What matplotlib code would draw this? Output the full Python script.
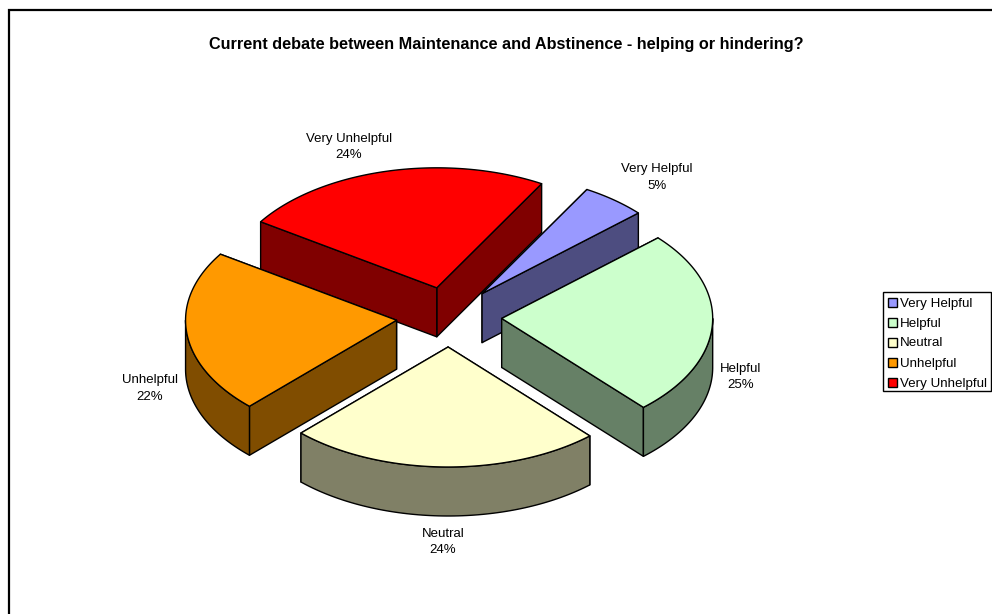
import numpy as np
import matplotlib
matplotlib.use("Agg")
import matplotlib.pyplot as plt
from matplotlib.patches import Polygon, Rectangle

plt.rcParams['font.family'] = ['Liberation Sans', 'DejaVu Sans']

TITLE = 'Current debate between Maintenance and Abstinence - helping or hindering?'
categories = ['Very Helpful', 'Helpful', 'Neutral', 'Unhelpful', 'Very Unhelpful']
values = [5, 25, 24, 22, 24]
top_colors = ['#9999FF', '#CCFFCC', '#FFFFCC', '#FF9900', '#FF0000']
side_colors = ['#4D4D80', '#668066', '#808066', '#804D00', '#800000']
label_xy = [(657, 177.5), (741, 377), (443, 542), (150, 388.5), (349, 147)]

# pie geometry, in pixels
CX, CY = 449, 317
RX, RY = 211, 120
DEPTH = 49
EXPLODE = 0.25
START = 29.8


def rim(t, ox, oy):
    # t runs clockwise from twelve o'clock, in degrees
    r = np.radians(t)
    return ox + RX * np.sin(r), oy - RY * np.cos(r)


def draw_slice(ax, t0, t1, top, side):
    mid = (t0 + t1) / 2
    ox = CX + EXPLODE * RX * np.sin(np.radians(mid))
    oy = CY - EXPLODE * RY * np.cos(np.radians(mid))
    kw = dict(edgecolor='black', linewidth=1.0, joinstyle='round')

    # the two cut faces, the one further back first
    for t in sorted((t0, t1), key=lambda a: rim(a, ox, oy)[1]):
        x, y = rim(t, ox, oy)
        ax.add_patch(Polygon([(ox, oy), (x, y), (x, y + DEPTH), (ox, oy + DEPTH)],
                             facecolor=side, **kw))

    # outer wall, only the part that faces the viewer
    lo = max(t0, 90)
    hi = min(t1, 270)
    if lo < hi:
        ts = np.linspace(lo, hi, 80)
        x, y = rim(ts, ox, oy)
        pts = np.r_[np.c_[x, y], np.c_[x, y + DEPTH][::-1]]
        ax.add_patch(Polygon(pts, facecolor=side, **kw))

    ts = np.linspace(t0, t1, 120)
    x, y = rim(ts, ox, oy)
    pts = np.r_[[(ox, oy)], np.c_[x, y]]
    ax.add_patch(Polygon(pts, facecolor=top, **kw))


fig = plt.figure(figsize=(9.92, 6.14), dpi=100)
ax = fig.add_axes([0, 0, 1, 1])
ax.set_xlim(0, 992)
ax.set_ylim(614, 0)
ax.axis('off')

# chart frame runs off the right and bottom of the page
ax.plot([9, 9, 1000], [620, 10, 10], color='black', linewidth=1.6, solid_joinstyle='miter')

total = sum(values)
edges = START + np.cumsum([0] + values) * 360 / total

# back slices first so the front ones overlap them
for i in [4, 0, 3, 1, 2]:
    draw_slice(ax, edges[i], edges[i + 1], top_colors[i], side_colors[i])

for name, val, (x, y) in zip(categories, values, label_xy):
    ax.text(x, y, f'{name}\n{val}%', ha='center', va='center', fontsize=9.5, linespacing=1.45)

ax.text(506, 44, TITLE, ha='center', va='center', fontsize=11.7, fontweight='bold')

# legend box
ax.add_patch(Rectangle((883, 292), 107.5, 99, facecolor='white', edgecolor='black', linewidth=1.0))
for i, (name, color) in enumerate(zip(categories, top_colors)):
    row = 302 + 20 * i
    ax.add_patch(Rectangle((887.5, row - 4.5), 9, 9, facecolor=color, edgecolor='black', linewidth=1.0))
    ax.text(900, row + 4.5, name, ha='left', va='baseline', fontsize=9.6)

fig.savefig('out.png', dpi=100)
